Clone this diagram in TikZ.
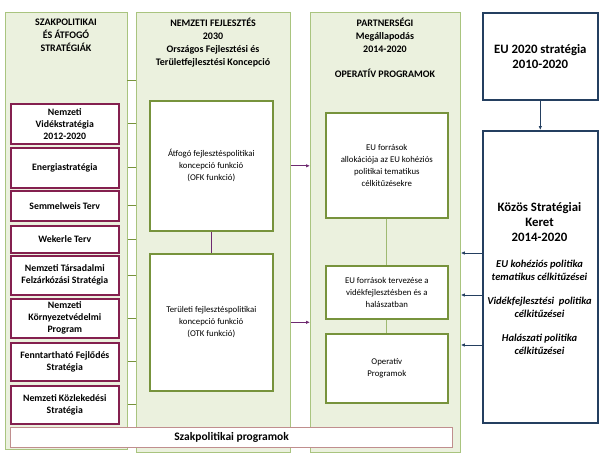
\documentclass[tikz,border=0pt]{standalone}
\usepackage{fontspec}
\setmainfont{Carlito}
\usetikzlibrary{arrows.meta}
\definecolor{colfill}{HTML}{EBF1DE}
\definecolor{colline}{HTML}{A9C47F}
\definecolor{boxgreen}{HTML}{77933C}
\definecolor{stratline}{HTML}{84204F}
\definecolor{linkpurple}{HTML}{6E2A70}
\definecolor{euline}{HTML}{243F60}
\definecolor{barline}{HTML}{C08E8E}

\begin{document}
\begin{tikzpicture}[x=1pt,y=-1pt,
  col/.style={draw=colline,fill=colfill,line width=0.8pt,anchor=north west,inner sep=0pt},
  head/.style={anchor=north,align=center,font=\fontsize{10}{13}\selectfont\bfseries},
  strat/.style={draw=stratline,line width=1.6pt,fill=white,anchor=north west,minimum width=108pt,
    align=center,inner sep=1pt,font=\fontsize{9.8}{12}\selectfont\bfseries},
  func/.style={draw=boxgreen,line width=1.6pt,fill=white,anchor=north west,minimum width=123pt,
    align=center,inner sep=1pt,font=\fontsize{8.8}{12}\selectfont},
  eubox/.style={draw=euline,line width=1.6pt,fill=white,anchor=north west,minimum width=115pt,inner sep=0pt},
  link/.style={draw=boxgreen,line width=1pt},
  plink/.style={draw=linkpurple,line width=1pt},
  parrow/.style={draw=linkpurple,line width=1pt,-{Latex[length=4pt,width=3.5pt]}},
  earrow/.style={draw=euline,line width=1pt,-{Latex[length=4pt,width=3.5pt]}},
  goal/.style={align=center,font=\fontsize{10.5}{13}\selectfont\bfseries\itshape}]
  \useasboundingbox (0,0) rectangle (608,458);
  \node[col,minimum width=122pt,minimum height=437pt] (leftcol) at (5,12) {};
  \node[col,minimum width=154pt,minimum height=440pt] (midcol) at (136,12) {};
  \node[col,minimum width=150pt,minimum height=440pt] (partcol) at (310,12) {};
  \node[eubox,minimum height=87pt,align=center,font=\fontsize{12.8}{15}\selectfont\bfseries] (eu2020) at (482,12) {EU 2020 stratégia\\2010-2020};
  \node[eubox,minimum height=292pt] (kozos) at (482,130) {};

  \node[head] (lefthead) at (66,15) {SZAKPOLITIKAI\\ÉS ÁTFOGÓ\\STRATÉGIÁK};
  \node[head] (midhead) at (213,15) {NEMZETI FEJLESZTÉS\\2030\\Országos Fejlesztési és\\Területfejlesztési Koncepció};
  \node[head] (parthead) at (385,15) {PARTNERSÉGI\\Megállapodás\\2014-2020\\[12pt]OPERATÍV PROGRAMOK};

  \node[strat,minimum height=40pt] (videk) at (10,103) {Nemzeti\\Vidékstratégia\\2012-2020};
  \node[strat,minimum height=40pt] (energia) at (10,147) {Energiastratégia};
  \node[strat,minimum height=30pt] (semmel) at (10,190) {Semmelweis Terv};
  \node[strat,minimum height=27pt] (wekerle) at (10,225) {Wekerle Terv};
  \node[strat,minimum height=39pt] (tarsad) at (10,255) {Nemzeti Társadalmi\\Felzárkózási Stratégia};
  \node[strat,minimum height=39pt] (korny) at (10,298) {Nemzeti\\Környezetvédelmi\\Program};
  \node[strat,minimum height=38pt] (fennt) at (10,342) {Fenntartható Fejlődés\\Stratégia};
  \node[strat,minimum height=38pt] (kozl) at (10,385) {Nemzeti Közlekedési\\Stratégia};

  \node[func,minimum height=130pt] (atfogo) at (149,100) {Átfogó fejlesztéspolitikai\\koncepció funkció\\(OFK funkció)};
  \node[func,minimum height=137pt] (terulet) at (149,253) {Területi fejlesztéspolitikai\\koncepció funkció\\(OTK funkció)};

  \node[func,minimum width=122pt,minimum height=105pt] (alloc) at (325,112) {EU források\\allokációja az EU kohéziós\\politikai tematikus\\célkitűzésekre};
  \node[func,minimum width=122pt,minimum height=53pt] (terv) at (325,265) {EU források tervezése a\\vidékfejlesztésben és a\\halászatban};
  \node[func,minimum width=122pt,minimum height=69pt] (opprog) at (325,333) {Operatív\\Programok};

  \node[align=center,font=\fontsize{12.8}{15}\selectfont\bfseries] (kztitle) at (539.5,222) {Közös Stratégiai\\Keret\\2014-2020};
  \node[goal] (kzcoh) at (539.5,270) {EU kohéziós politika\\tematikus célkitűzései};
  \node[goal] (kzvid) at (539.5,307) {Vidékfejlesztési\ \ politika\\célkitűzései};
  \node[goal] (kzhal) at (539.5,344) {Halászati politika\\célkitűzései};

  \node[draw=barline,line width=1.2pt,fill=white,anchor=north west,minimum width=442pt,minimum height=20pt,
    inner sep=0pt,font=\fontsize{11.5}{13}\selectfont\bfseries] (bar) at (10,427) {Szakpolitikai programok};

  \coordinate (hdlink) at (127,80);
  \draw[link] (hdlink) -- (hdlink -| midcol.west);
  \foreach \s in {videk,energia,semmel,wekerle,tarsad,korny,fennt,kozl}
    \draw[link] (\s.east -| leftcol.east) -- (\s.east -| midcol.west);
  \draw[plink] (atfogo.south) -- (terulet.north);
  \draw[parrow] (atfogo.east -| midcol.east) -- (atfogo.east -| partcol.west);
  \draw[parrow] (terulet.east -| midcol.east) -- (terulet.east -| partcol.west);
  \draw[link,draw=colline!80!boxgreen] (alloc.south) -- (terv.north);
  \draw[link,draw=colline!80!boxgreen] (terv.south) -- (opprog.north);
  \draw[earrow] (eu2020.south) -- (kozos.north);
  \foreach \y in {253,295,345}
    \draw[earrow] (kozos.west |- 0,\y) -- (partcol.east |- 0,\y);
\end{tikzpicture}
\end{document}
